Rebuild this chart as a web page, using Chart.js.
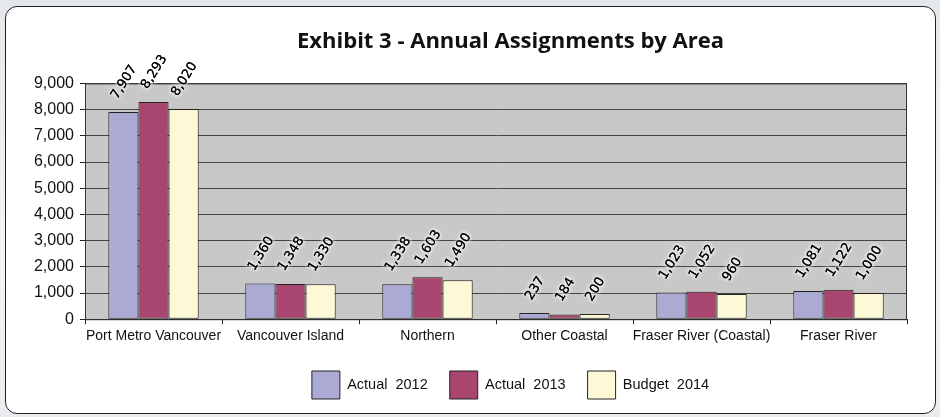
<!DOCTYPE html>
<html>
<head>
<meta charset="utf-8">
<script src="https://cdn.jsdelivr.net/npm/chart.js@4"></script>
<style>
  html, body { margin: 0; padding: 0; }
  body {
    width: 940px; height: 417px; overflow: hidden;
    background: linear-gradient(180deg, #e4e7ec 0%, #f3f4f6 60%, #e9ebef 100%);
    position: relative;
  }
  .card {
    position: absolute; left: 5px; top: 6px; width: 929px; height: 406px;
    background: #fff; border: 1.5px solid #222; border-radius: 12px;
  }
  #wrap { position: absolute; left: 0; top: 0; width: 940px; height: 417px; }
</style>
</head>
<body>
<div class="card"></div>
<div id="wrap"><canvas id="areaChart"></canvas></div>
<script>
// Annual assignments per area
const areas = ['Port Metro Vancouver', 'Vancouver Island', 'Northern', 'Other Coastal', 'Fraser River (Coastal)', 'Fraser River'];
const actual2012 = [7907, 1360, 1338, 237, 1023, 1081];
const actual2013 = [8293, 1348, 1603, 184, 1052, 1122];
const budget2014 = [8020, 1330, 1490, 200, 960, 1000];
const yTicks = [0, 1000, 2000, 3000, 4000, 5000, 6000, 7000, 8000, 9000];

const fmt = v => v.toLocaleString('en-US');

// grey plot background plus frame
const plotBg = {
    id: 'plotBg',
    beforeDraw(chart) {
        const { ctx, chartArea: a } = chart;
        ctx.save();
        ctx.fillStyle = '#c8c8c8';
        ctx.fillRect(a.left, a.top, a.right - a.left, a.bottom - a.top);
        ctx.restore();
    },
    afterDatasetsDraw(chart) {
        const { ctx, chartArea: a } = chart;
        ctx.save();
        ctx.strokeStyle = '#333';
        ctx.lineWidth = 1;
        ctx.strokeRect(a.left + 0.5, a.top + 0.5, a.right - a.left - 1, a.bottom - a.top);
        ctx.restore();
    }
};

// title and legend sit a bit right of the page centre
const shiftBlocks = {
    id: 'shiftBlocks',
    afterLayout(chart) {
        const dx = 57;
        [chart.titleBlock, chart.legend].forEach(b => {
            if (!b) return;
            b.left += dx;
            b.right += dx;
        });
    }
};

// slanted value labels with a white halo
const valueLabels = {
    id: 'valueLabels',
    afterDatasetsDraw(chart) {
        const ctx = chart.ctx;
        const ang = 58 * Math.PI / 180;
        const h = 10;
        ctx.save();
        ctx.font = '13px "DejaVu Sans", sans-serif';
        ctx.textAlign = 'center';
        ctx.textBaseline = 'middle';
        chart.data.datasets.forEach((ds, i) => {
            chart.getDatasetMeta(i).data.forEach((bar, j) => {
                const txt = fmt(ds.data[j]);
                const w = ctx.measureText(txt).width;
                const boxH = w * Math.sin(ang) + h * Math.cos(ang);
                ctx.save();
                ctx.translate(bar.x, bar.y - 12 - boxH / 2);
                ctx.rotate(-ang);
                ctx.shadowColor = '#fff';
                ctx.shadowBlur = 4;
                ctx.fillStyle = '#000';
                for (let k = 0; k < 3; k++) ctx.fillText(txt, 0, 1);
                ctx.restore();
            });
        });
        ctx.restore();
    }
};

const fontFam = '"Liberation Sans", Arial, sans-serif';

new Chart(document.getElementById('areaChart'), {
    type: 'bar',
    data: {
        labels: areas,
        datasets: [
            { label: 'Actual  2012', data: actual2012, backgroundColor: '#aaaad5' },
            { label: 'Actual  2013', data: actual2013, backgroundColor: '#a8466f' },
            { label: 'Budget  2014', data: budget2014, backgroundColor: '#fdf9d6' }
        ].map(d => Object.assign(d, {
            borderColor: '#222',
            borderWidth: 1,
            borderSkipped: false,
            categoryPercentage: 0.66,
            barPercentage: 1
        }))
    },
    options: {
        responsive: true,
        maintainAspectRatio: false,
        animation: false,
        layout: { padding: { left: 0, right: 33, top: 29, bottom: 8 } },
        plugins: {
            title: {
                display: true,
                text: 'Exhibit 3 - Annual Assignments by Area',
                color: '#111',
                font: { family: '"Open Sans", sans-serif', size: 22, weight: 'bold' },
                padding: { top: 0, bottom: 28 }
            },
            legend: {
                position: 'bottom',
                labels: {
                    color: '#111',
                    font: { family: fontFam, size: 14.5 },
                    boxWidth: 28,
                    boxHeight: 28,
                    padding: 22
                }
            },
            tooltip: { enabled: false }
        },
        scales: {
            x: {
                grid: { display: true, drawOnChartArea: false, drawTicks: true, tickLength: 5, color: '#222' },
                border: { color: '#222' },
                ticks: { color: '#111', font: { family: fontFam, size: 14 }, maxRotation: 0, autoSkip: false, padding: 4 }
            },
            y: {
                min: 0,
                max: 9000,
                afterFit: s => { s.width = 85; },
                afterBuildTicks: s => { s.ticks = yTicks.map(v => ({ value: v })); },
                grid: { color: '#444', tickLength: 5, tickColor: '#222' },
                border: { color: '#222' },
                ticks: { color: '#111', font: { family: fontFam, size: 16 }, padding: 6, callback: v => fmt(v) }
            }
        }
    },
    plugins: [plotBg, shiftBlocks, valueLabels]
});
</script>
</body>
</html>
